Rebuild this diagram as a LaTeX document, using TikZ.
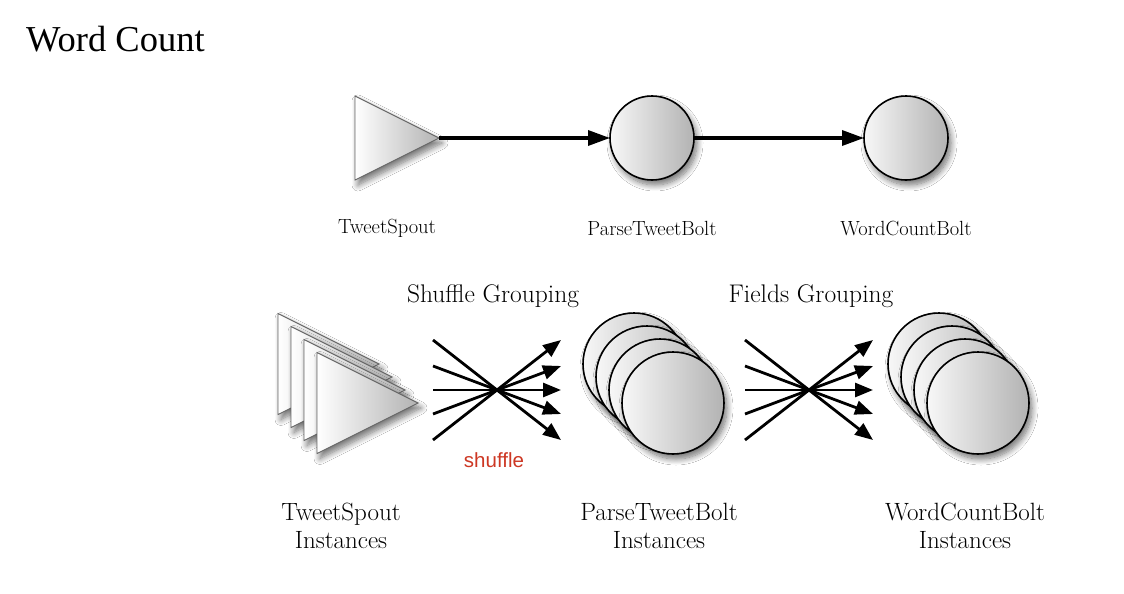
\documentclass[tikz,border=0pt]{standalone}
\usepackage{fontspec}
\newfontfamily\titlefont{Liberation Serif}
\newfontfamily\redfont{Liberation Sans}
\usetikzlibrary{shapes.geometric,arrows.meta,shadows.blur}
\definecolor{shufred}{RGB}{205,55,35}
\tikzset{
  soft/.style={blur shadow={shadow xshift=3pt, shadow yshift=-5pt, shadow blur steps=10, shadow blur radius=6pt, shadow opacity=55}},
  spout/.style={isosceles triangle, isosceles triangle stretches, shape border rotate=0, inner sep=0pt, outer sep=0pt,
    draw=black!60, line width=0.9pt, left color=white, right color=black!30, soft},
  bolt/.style={circle, inner sep=0pt, outer sep=0pt, draw=black, line width=1.6pt, left color=black!3, right color=black!30, soft},
  flow/.style={line width=3.4pt, -{Triangle[length=22pt,width=15pt]}},
  cross/.style={line width=2.8pt, -{Triangle[length=18pt,width=14pt]}},
  lbl/.style={font=\fontsize{20.5}{24}\selectfont, inner sep=0pt},
  biglbl/.style={font=\fontsize{25}{28}\selectfont, align=center, inner sep=0pt},
  grp/.style={font=\fontsize{25.5}{28}\selectfont, inner sep=0pt},
}
\begin{document}
\begin{tikzpicture}[x=1pt,y=-1pt]
\useasboundingbox (0,0) rectangle (1124,594);
\fill[white] (0,0) rectangle (1124,594);

% title
\node[anchor=base west, inner sep=0pt, font=\titlefont\fontsize{36.5}{40}\selectfont] (title) at (26,52) {Word Count};

% top row
\node[spout, minimum width=84, minimum height=84, anchor=apex] (ts) at (439,138) {};
\node[bolt, minimum size=84] (ptb) at (652,138) {};
\node[bolt, minimum size=84] (wcb) at (906,138) {};
\draw[flow] (ts.apex) -- (ptb.west);
\draw[flow] (ptb.east) -- (wcb.west);
\node[lbl] (tsl) at (387,228) {TweetSpout};
\node[lbl] (ptbl) at (652,228) {ParseTweetBolt};
\node[lbl] (wcbl) at (906,228) {WordCountBolt};

% bottom row: spout instances
\foreach \i/\dx in {1/39,2/26,3/13,4/0}{
  \node[spout, minimum width=101, minimum height=101, anchor=apex] (tsi\i) at (418-\dx,403-\dx) {};
}
% parse bolt instances
\foreach \i/\dx in {1/39,2/26,3/13,4/0}{
  \node[bolt, minimum size=102] (pbi\i) at (673-\dx,403-\dx) {};
}
% word count bolt instances
\foreach \i/\dx in {1/39,2/26,3/13,4/0}{
  \node[bolt, minimum size=102] (wbi\i) at (978-\dx,403-\dx) {};
}

% shuffle grouping crossing arrows
\foreach \k/\yl/\yr in {1/340/440,2/366/414,3/390/390,4/414/366,5/440/340}{
  \coordinate (sl\k) at (433,\yl);
  \coordinate (sr\k) at (561,\yr);
  \draw[cross] (sl\k) -- (sr\k);
}
% fields grouping crossing arrows
\foreach \k/\yl/\yr in {1/340/440,2/366/414,3/390/390,4/414/366,5/440/340}{
  \coordinate (fl\k) at (745,\yl);
  \coordinate (fr\k) at (873,\yr);
  \draw[cross] (fl\k) -- (fr\k);
}

\node[grp] (sg) at (493,296) {Shuffle Grouping};
\node[grp] (fg) at (811,296) {Fields Grouping};
\node[font=\redfont\fontsize{20.5}{24}\selectfont, text=shufred, inner sep=0pt] (sh) at (494,460) {shuffle};

\node[biglbl] (tsil) at (341,526) {TweetSpout\\Instances};
\node[biglbl] (pbil) at (659,526) {ParseTweetBolt\\Instances};
\node[biglbl] (wbil) at (965,526) {WordCountBolt\\Instances};
\end{tikzpicture}
\end{document}
